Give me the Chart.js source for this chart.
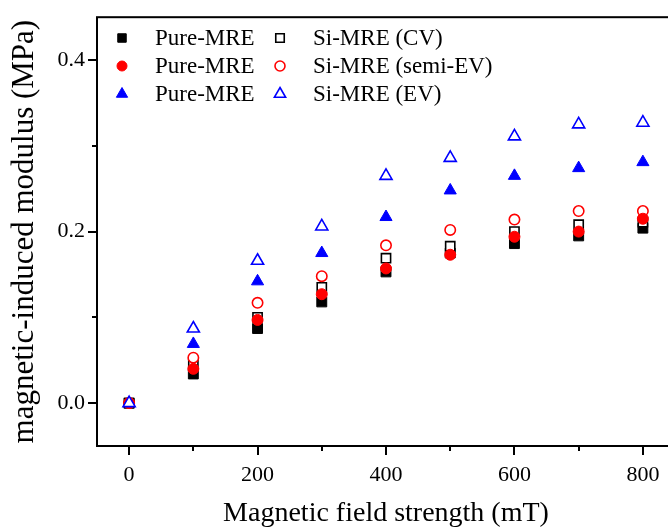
<!DOCTYPE html>
<html><head><meta charset="utf-8">
<script src="https://cdn.jsdelivr.net/npm/chart.js@4/dist/chart.umd.min.js"></script>
<style>
html,body{margin:0;padding:0;background:#fff;overflow:hidden;width:668px;height:528px}
#wrap{position:absolute;left:0;top:0;width:690px;height:528px}
</style>
</head><body>
<div id="wrap"><canvas id="c" width="690" height="528"></canvas></div>
<script>
const fieldStrength = [0, 100, 200, 300, 400, 500, 600, 700, 800];
const pureCV   = [0, 0.034, 0.087, 0.118, 0.153, 0.175, 0.186, 0.195, 0.204];
const siCV     = [0, 0.046, 0.100, 0.135, 0.169, 0.183, 0.200, 0.208, 0.211];
const pureSemi = [0, 0.040, 0.097, 0.127, 0.157, 0.173, 0.194, 0.200, 0.215];
const siSemi   = [0, 0.053, 0.117, 0.148, 0.184, 0.202, 0.214, 0.224, 0.224];
const pureEV   = [0, 0.069, 0.142, 0.175, 0.217, 0.248, 0.265, 0.274, 0.281];
const siEV     = [0, 0.087, 0.166, 0.206, 0.265, 0.286, 0.311, 0.325, 0.327];
const seriesLabels = ['Pure-MRE', 'Si-MRE (CV)', 'Pure-MRE', 'Si-MRE (semi-EV)', 'Pure-MRE', 'Si-MRE (EV)'];
const xTickLabels = [0, 200, 400, 600, 800];
const yTickLabels = [0.0, 0.2, 0.4];

const FONT = "'Liberation Serif', 'Times New Roman', serif";
const toPts = ys => fieldStrength.map((x, i) => ({x: x, y: ys[i]}));

function ds(label, ys, style, color, filled, radius, order) {
  return {
    label: label, data: toPts(ys), pointStyle: style,
    pointRadius: radius, pointHoverRadius: radius,
    backgroundColor: filled ? color : '#ffffff',
    borderColor: color, pointBorderWidth: filled ? 1 : 1.6,
    showLine: false, order: order
  };
}

const datasets = [
  ds(seriesLabels[0], pureCV, 'rect', '#000000', true, 7, 5),
  ds(seriesLabels[1], siCV, 'rect', '#000000', false, 6.5, 4),
  ds(seriesLabels[2], pureSemi, 'circle', '#ff0000', true, 5.5, 2),
  ds(seriesLabels[3], siSemi, 'circle', '#ff0000', false, 5.2, 3),
  ds(seriesLabels[4], pureEV, 'triangle', '#0000ff', true, 7, 1),
  ds(seriesLabels[5], siEV, 'triangle', '#0000ff', false, 7, 0)
];

const framePlugin = {
  id: 'frame',
  afterDraw(chart) {
    const ctx = chart.ctx, a = chart.chartArea;
    const xs = chart.scales.x, ys = chart.scales.y;
    ctx.save();
    ctx.strokeStyle = '#000';
    ctx.lineWidth = 2;
    ctx.strokeRect(a.left, a.top, a.right - a.left, a.bottom - a.top);
    ctx.beginPath();
    for (let v = 0; v <= 800; v += 100) {
      const px = Math.round(xs.getPixelForValue(v));
      const len = (v % 200 === 0) ? 9 : 5;
      ctx.moveTo(px, a.bottom); ctx.lineTo(px, a.bottom + len);
    }
    for (let k = 0; k <= 4; k++) {
      const py = Math.round(ys.getPixelForValue(k / 10));
      const len = (k % 2 === 0) ? 9 : 5;
      ctx.moveTo(a.left, py); ctx.lineTo(a.left - len, py);
    }
    ctx.stroke();
    // legend
    const H = Chart.helpers;
    const cols = [{mx: 122, tx: 155}, {mx: 280, tx: 313}];
    const rows = [38, 66, 94];
    ctx.font = '23px ' + FONT;
    ctx.fillStyle = '#000';
    ctx.textBaseline = 'middle';
    ctx.textAlign = 'left';
    chart.data.datasets.forEach((d, i) => {
      const c = cols[i % 2], r = rows[Math.floor(i / 2)];
      ctx.save();
      ctx.fillStyle = d.backgroundColor;
      ctx.strokeStyle = d.borderColor;
      ctx.lineWidth = d.pointBorderWidth;
      const rad = d.pointStyle === 'rect' ? 6 : (d.pointStyle === 'circle' ? 5 : 6.5);
      H.drawPoint(ctx, {pointStyle: d.pointStyle, radius: rad, rotation: 0, borderWidth: d.pointBorderWidth}, c.mx, r);
      ctx.restore();
      ctx.fillStyle = '#000';
      ctx.fillText(d.label, c.tx, r + 1);
    });
    ctx.restore();
  }
};

new Chart(document.getElementById('c'), {
  type: 'scatter',
  data: {datasets: datasets},
  options: {
    responsive: false, animation: false,
    layout: {padding: {left: 0, top: 15, right: 15, bottom: 0}},
    plugins: {legend: {display: false}, tooltip: {enabled: false}},
    scales: {
      x: {
        type: 'linear', min: -50, max: 850,
        afterFit: s => { s.height = 82; },
        afterBuildTicks: s => { s.ticks = xTickLabels.map(v => ({value: v})); },
        grid: {display: false},
        border: {display: false},
        ticks: {color: '#000', font: {family: FONT, size: 22}, padding: 8, maxRotation: 0,
                callback: v => String(v)},
        title: {display: true, text: 'Magnetic field strength (mT)', color: '#000',
                font: {family: FONT, size: 28, lineHeight: 1.05}, padding: {top: 0, bottom: 0}}
      },
      y: {
        type: 'linear', min: -0.05, max: 0.45,
        afterFit: s => { s.width = 97; },
        afterBuildTicks: s => { s.ticks = yTickLabels.map(v => ({value: v})); },
        grid: {display: false},
        border: {display: false},
        ticks: {color: '#000', font: {family: FONT, size: 22}, padding: 4,
                callback: v => Number(v).toFixed(1)},
        title: {display: true, text: 'magnetic-induced modulus (MPa)', color: '#000',
                font: {family: FONT, size: 31}, padding: {top: 6, bottom: 0}}
      }
    }
  },
  plugins: [framePlugin]
});
</script>
</body></html>
